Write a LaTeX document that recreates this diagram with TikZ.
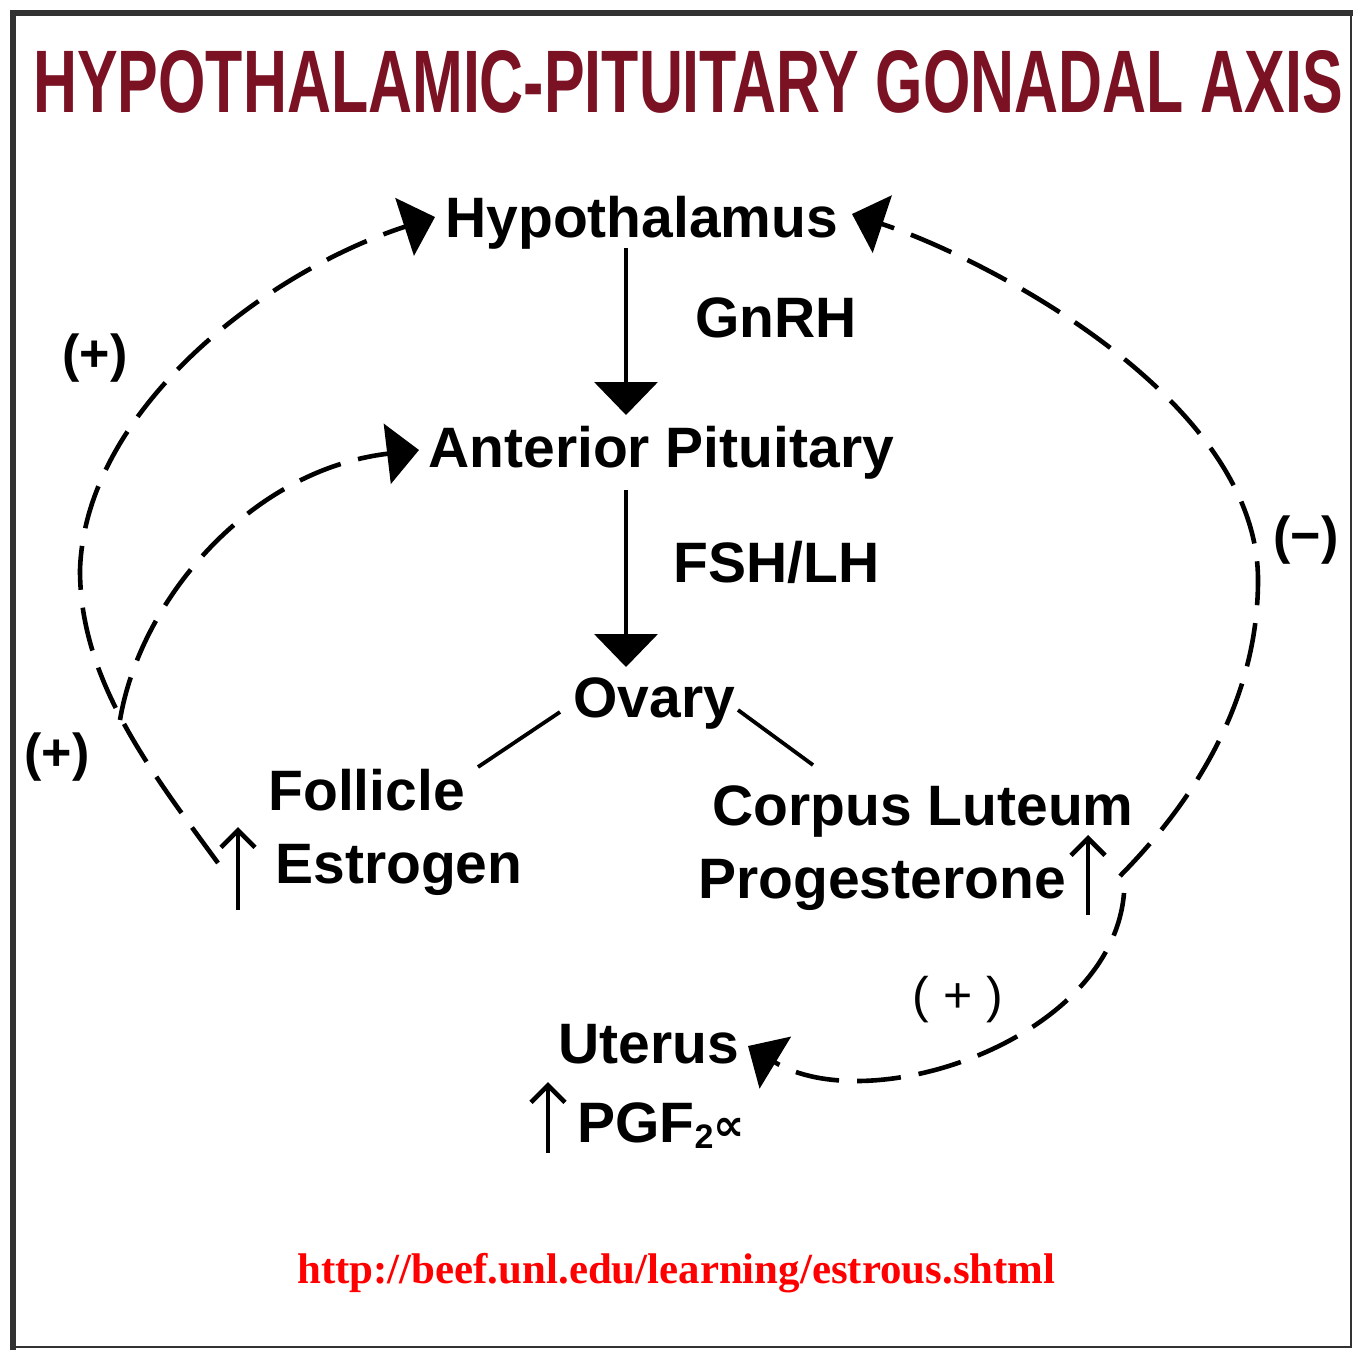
\documentclass[tikz,border=0pt]{standalone}
\usepackage{fontspec}
\setmainfont{Liberation Sans}
\newfontfamily\urlfont{Liberation Serif}
\newfontfamily\symfont{DejaVu Sans}
\usetikzlibrary{arrows.meta}
\definecolor{titlered}{RGB}{122,18,36}
\definecolor{urlred}{RGB}{255,0,0}
\definecolor{framegray}{RGB}{50,50,50}
\begin{document}
\begin{tikzpicture}[x=0.5pt,y=-0.5pt,
  lbl/.style={font=\fontsize{28.5}{30}\selectfont\bfseries, inner sep=0pt, anchor=base west},
  sign/.style={font=\fontsize{26}{27}\selectfont\bfseries, inner sep=0pt},
  fb/.style={line width=2.3pt, dash pattern=on 22pt off 9pt},
  tri/.style={-{Triangle[length=16pt,width=30pt]}},
  down/.style={line width=2pt, -{Triangle[length=16.5pt,width=31.5pt]}},
  up/.style={line width=2.3pt, -{Straight Barb[length=8.5pt,width=17pt,line width=2.3pt]}},
  link/.style={line width=1.9pt}
  ]
\useasboundingbox (0,0) rectangle (1353,1350);
\fill[white] (0,0) rectangle (1353,1350);
% frame
\draw[framegray, line width=1pt] (1351,13) -- (1351,1347) -- (13,1347);
\draw[framegray, line width=3pt] (13,1350) -- (13,13) -- (1353,13);

% title
\node[anchor=base west, inner sep=0pt, text=titlered] (title) at (33,112)
  {\resizebox{654.5pt}{31pt}{\bfseries HYPOTHALAMIC-PITUITARY GONADAL AXIS}};

% main labels
\node[lbl] (hyp) at (445,237) {Hypothalamus};
\node[lbl] (gnrh) at (695,337) {GnRH};
\node[lbl] (ant) at (428,467) {Anterior Pituitary};
\node[lbl] (fsh) at (673,582) {FSH/LH};
\node[lbl] (ovary) at (573,717) {Ovary};
\node[lbl] (foll) at (268,810) {Follicle};
\node[lbl] (estr) at (275,883) {Estrogen};
\node[lbl] (corpus) at (712,825) {Corpus Luteum};
\node[lbl] (prog) at (698,898) {Progesterone};
\node[lbl] (uterus) at (558,1063) {Uterus};
\node[lbl] (pgf) at (577,1142) {PGF{\fontsize{17}{17}\selectfont\raisebox{-3pt}{2}}{\symfont\bfseries\fontsize{22}{22}\selectfont\raisebox{1pt}{∝}}};

% signs
\node[sign] (p1) at (95,358) {(+)};
\node[sign] (p2) at (57,757) {(+)};
\node[sign] (m1) at (1306,540) {(−)};
\node[font=\fontsize{25}{26}\selectfont, inner sep=0pt] (p3) at (958,1000) {( + )};

% coordinates
\coordinate (h1) at (626,248);
\coordinate (a1) at (626,415);
\coordinate (a2) at (626,490);
\coordinate (o1) at (626,667);
\coordinate (ovl) at (560,712);
\coordinate (fol) at (478,767);
\coordinate (ovr) at (738,710);
\coordinate (cor) at (813,765);
\coordinate (eb) at (238,910);
\coordinate (et) at (238,827);
\coordinate (pb) at (1088,915);
\coordinate (pt) at (1088,835);
\coordinate (gb) at (548,1153);
\coordinate (gt) at (548,1082);
\coordinate (es) at (218,863);
\coordinate (lm) at (80,570);
\coordinate (lj) at (120,720);
\coordinate (ht) at (435,217);
\coordinate (at) at (419,450);
\coordinate (pr) at (1120,876);
\coordinate (pu) at (1124,893);
\coordinate (rm) at (1258,580);
\coordinate (hr) at (852,214);
\coordinate (ut) at (748,1046);

% solid arrows
\draw[down] (h1) -- (a1);
\draw[down] (a2) -- (o1);
\draw[link] (ovl) -- (fol);
\draw[link] (ovr) -- (cor);
\draw[up] (eb) -- (et);
\draw[up] (pb) -- (pt);
\draw[up] (gb) -- (gt);

% dashed feedback
\draw[fb, tri] (es) .. controls (150,770) and (80,680) .. (lm) .. controls (85,410) and (265,272) .. (ht);
\draw[fb, tri] (lj) .. controls (140,600) and (250,470) .. (at);
\draw[fb, tri] (pr) .. controls (1195,800) and (1258,700) .. (rm) .. controls (1258,400) and (990,260) .. (hr);
\draw[fb, tri] (pu) .. controls (1112,1040) and (870,1120) .. (ut);

% url
\node[anchor=base west, inner sep=0pt, text=urlred] (url) at (297,1283)
  {\resizebox{379pt}{!}{\urlfont\bfseries http://beef.unl.edu/learning/estrous.shtml}};
\end{tikzpicture}
\end{document}
